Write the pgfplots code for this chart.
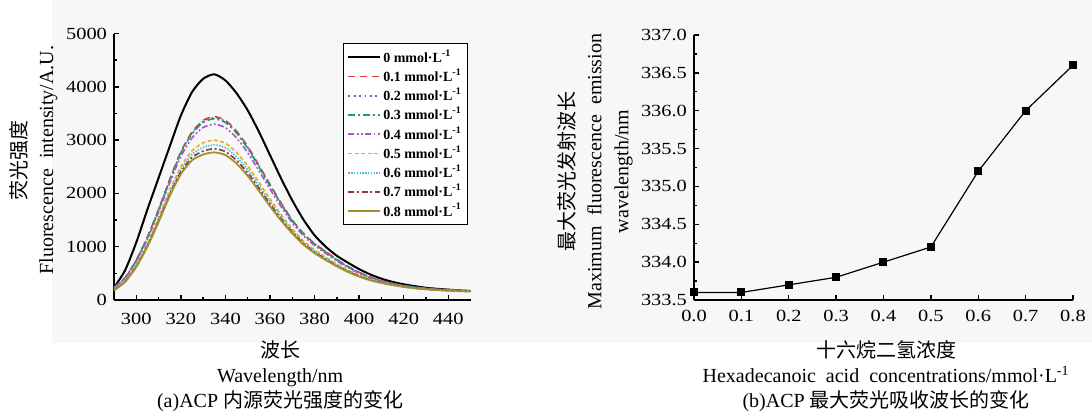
\documentclass[border=0pt]{standalone}
\usepackage{pgfplots}
\pgfplotsset{compat=1.18}
\usepackage{pgfplotstable}
\usepackage{fontspec}
\setmainfont{Liberation Serif}
\newfontfamily\cjk{Noto Sans CJK SC}
\newfontfamily\tickfont{Liberation Serif}[FakeStretch=1.2]
\definecolor{cA}{HTML}{E53935}
\definecolor{cB}{HTML}{4F6FC8}
\definecolor{cC}{HTML}{20A060}
\definecolor{cD}{HTML}{B050D0}
\definecolor{cE}{HTML}{E8B020}
\definecolor{cF}{HTML}{40C0E0}
\definecolor{cG}{HTML}{903838}
\definecolor{cH}{HTML}{A09030}
\pgfplotstableread{
x k0 k1 k2 k3 k4 k5 k6 k7 k8
290 230 240 238 236 227 200 193 186 180
295 560 420 418 415 403 367 357 348 340
300 1080 750 746 742 723 664 647 633 620
305 1700 1180 1175 1169 1142 1061 1038 1018 1000
310 2290 1700 1693 1686 1650 1542 1510 1484 1460
315 2880 2260 2251 2241 2195 2055 2015 1981 1950
320 3460 2780 2767 2755 2692 2503 2448 2402 2360
325 3900 3150 3134 3118 3039 2800 2731 2673 2620
330 4150 3370 3351 3332 3236 2948 2864 2794 2730
335 4235 3440 3420 3400 3299 2998 2911 2837 2770
340 4120 3370 3351 3331 3234 2941 2857 2785 2720
345 3880 3170 3152 3133 3042 2767 2688 2621 2560
350 3560 2880 2864 2847 2765 2517 2446 2385 2330
355 3160 2530 2516 2501 2429 2213 2151 2098 2050
360 2720 2170 2158 2145 2084 1899 1846 1801 1760
365 2280 1820 1810 1800 1751 1602 1559 1523 1490
370 1870 1500 1493 1485 1448 1335 1303 1275 1250
375 1510 1250 1244 1237 1206 1111 1084 1061 1040
380 1215 1060 1055 1049 1022 941 918 898 880
385 1000 910 905 900 876 804 784 766 750
390 830 760 756 752 733 674 657 643 630
395 700 630 627 624 608 561 547 536 525
400 580 520 518 515 503 467 457 448 440
405 480 430 428 426 417 390 383 376 370
410 400 360 359 358 352 334 328 324 320
415 340 310 309 308 304 290 286 283 280
420 295 270 269 269 265 254 250 248 245
425 260 240 239 239 236 227 224 222 220
430 230 220 219 219 216 207 204 202 200
435 210 200 200 199 197 190 188 187 185
440 195 190 190 189 187 180 178 177 175
445 180 180 180 179 177 170 168 167 165
450 170 170 170 169 168 163 162 161 160
}\spec
\pgfplotsset{
  common/.style={
    scale only axis, anchor=south west,
    axis x line*=bottom, axis y line*=left,
    axis line style={-, line width=0.9pt},
    major tick length=2.6pt, minor tick length=1.5pt,
    every tick/.style={black, line width=0.7pt},
    tick label style={font=\fontsize{8.5}{10}\selectfont\tickfont},
    /pgf/number format/assume math mode=true,
    label style={font=\fontsize{10}{13}\selectfont},
  }
}
\begin{document}
\begin{tikzpicture}
\path[use as bounding box] (0,0) rectangle (546pt,206.5pt);
\fill[black!3] (26pt,35pt) rectangle (546pt,206.5pt);
\begin{axis}[common,
  width=178.25pt, height=133.25pt, at={(57pt,56.5pt)},
  xmin=290, xmax=450, ymin=0, ymax=5000,
  xtick={300,320,340,360,380,400,420,440},
  ytick={0,1000,2000,3000,4000,5000},
  minor x tick num=1, minor y tick num=1,
  /pgf/number format/1000 sep={},
  xticklabel style={yshift=-3pt},
  ylabel={{\cjk 荧光强度}\\Fluorescence\ \ intensity/A.U.},
  ylabel style={at={(axis description cs:-0.226,0.525)}, anchor=center, align=center, font=\fontsize{10}{13.5}\selectfont},
  xlabel={{\cjk 波长}\\Wavelength/nm\\(a)ACP {\cjk 内源荧光强度的变化}},
  xlabel style={at={(axis description cs:0.466,-0.285)}, anchor=center, align=center, font=\fontsize{10}{12.5}\selectfont},
  legend image code/.code={\draw[#1] (0pt,0pt) -- (16pt,0pt);},
  legend style={at={(0.642,0.964)}, anchor=north west, draw=black, line width=0.6pt,
    font=\fontsize{7}{8}\selectfont\bfseries, cells={anchor=west}, row sep=0pt, inner sep=2pt,
    nodes={inner sep=0.9pt}},
  no marks, smooth, tension=0.4,
]
\addplot[black, line width=1pt] table[x=x, y=k0] {\spec};
\addplot[cA, line width=0.8pt, dash pattern=on 3.5pt off 2.5pt] table[x=x, y=k1] {\spec};
\addplot[cB, line width=0.8pt, dash pattern=on 0.9pt off 1.8pt] table[x=x, y=k2] {\spec};
\addplot[cC, line width=0.8pt, dash pattern=on 3.5pt off 1.5pt on 1pt off 1.5pt] table[x=x, y=k3] {\spec};
\addplot[cD, line width=0.8pt, dash pattern=on 3pt off 1.2pt on 0.9pt off 1.2pt on 0.9pt off 1.2pt] table[x=x, y=k4] {\spec};
\addplot[cE, line width=0.8pt, dash pattern=on 2pt off 1.2pt] table[x=x, y=k5] {\spec};
\addplot[cF, line width=0.8pt, dash pattern=on 0.7pt off 0.7pt] table[x=x, y=k6] {\spec};
\addplot[cG, line width=0.8pt, dash pattern=on 3pt off 1.3pt on 1pt off 1.3pt] table[x=x, y=k7] {\spec};
\addplot[cH, line width=0.9pt] table[x=x, y=k8] {\spec};
\legend{0 mmol·L\textsuperscript{-1},0.1 mmol·L\textsuperscript{-1},0.2 mmol·L\textsuperscript{-1},0.3 mmol·L\textsuperscript{-1},0.4 mmol·L\textsuperscript{-1},0.5 mmol·L\textsuperscript{-1},0.6 mmol·L\textsuperscript{-1},0.7 mmol·L\textsuperscript{-1},0.8 mmol·L\textsuperscript{-1}}
\end{axis}
\begin{axis}[common,
  width=189.5pt, height=132.5pt, at={(347pt,56.5pt)},
  xmin=0, xmax=0.8, ymin=333.5, ymax=337.0, clip=false,
  xtick={0,0.1,0.2,0.3,0.4,0.5,0.6,0.7,0.8},
  ytick={333.5,334,334.5,335,335.5,336,336.5,337},
  minor y tick num=1,
  xticklabel style={yshift=-1.5pt, /pgf/number format/.cd, fixed, fixed zerofill, precision=1},
  yticklabel style={/pgf/number format/.cd, fixed, fixed zerofill, precision=1},
  ylabel={{\cjk 最大荧光发射波长}\\Maximum\ \ fluorescence\ \ emission\\wavelength/nm},
  ylabel style={at={(axis description cs:-0.261,0.485)}, anchor=center, align=center, font=\fontsize{10}{13.5}\selectfont},
  xlabel={{\cjk 十六烷二氢浓度}\\Hexadecanoic\ \ acid\ \ concentrations/mmol·L\textsuperscript{-1}\\(b)ACP {\cjk 最大荧光吸收波长的变化}},
  xlabel style={at={(axis description cs:0.507,-0.287)}, anchor=center, align=center, font=\fontsize{10}{12.5}\selectfont},
]
\addplot[black, line width=0.6pt, mark=square*, mark size=1.7pt] coordinates {(0,333.6)(0.1,333.6)(0.2,333.7)(0.3,333.8)(0.4,334.0)(0.5,334.2)(0.6,335.2)(0.7,336.0)(0.8,336.6)};
\end{axis}
\end{tikzpicture}
\end{document}
